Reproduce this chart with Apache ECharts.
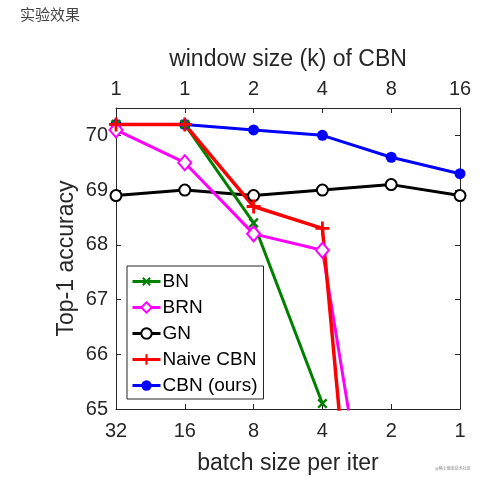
<!DOCTYPE html>
<html>
<head>
<meta charset="utf-8">
<script src="https://cdn.jsdelivr.net/npm/echarts@6/dist/echarts.min.js"></script>
<style>
html,body{margin:0;padding:0;background:#fff;}
#c{width:501px;height:494px;}
</style>
</head>
<body>
<div id="c"></div>
<script>
var batchLabels = ['32', '16', '8', '4', '2', '1'];
var windowLabels = ['1', '1', '2', '4', '8', '16'];
var bnData = [70.2, 70.2, 68.4, 65.1];
var brnData = [70.1, 69.5, 68.2, 67.9, 60.2];
var gnData = [68.9, 69.0, 68.9, 69.0, 69.1, 68.9];
var naiveCbnData = [70.2, 70.2, 68.7, 68.3, 54.6];
var cbnData = [70.2, 70.2, 70.1, 70.0, 69.6, 69.3];

var FONT = '"Liberation Sans", Arial, sans-serif';
var AX = '#262626';
var plusPath = 'path://M4,0H6V4H10V6H6V10H4V6H0V4H4Z';

var chart = echarts.init(document.getElementById('c'), null, {renderer: 'canvas'});
var axisCommon = {
  axisLine: {show: true, onZero: false, lineStyle: {color: AX, width: 1}},
  axisTick: {show: true, inside: true, length: 5, lineStyle: {color: AX}},
  splitLine: {show: false}
};
chart.setOption({
  animation: false,
  backgroundColor: '#fff',
  graphic: [
    {type: 'text', left: 20, top: 7, style: {text: '实验效果', fill: '#444', font: '15px "Noto Sans CJK SC", sans-serif'}},
    {type: 'text', left: 435, top: 466, style: {text: '@稀土掘金技术社区', fill: '#888', font: '4px "Noto Sans CJK SC", sans-serif'}}
  ],
  grid: {left: 116, right: 41, top: 108, bottom: 85, show: false},
  legend: {
    orient: 'vertical',
    left: 127, top: 266,
    padding: [6, 6, 4, 4],
    itemGap: 7,
    itemWidth: 28, itemHeight: 13,
    borderColor: AX, borderWidth: 1,
    backgroundColor: '#fff',
    lineStyle: {width: 3},
    textStyle: {fontFamily: FONT, fontSize: 19, color: '#000', padding: [0, 0, 0, -3]},
    data: ['BN', 'BRN', 'GN', 'Naive CBN', 'CBN (ours)']
  },
  xAxis: [
    Object.assign({
      type: 'category', position: 'bottom', boundaryGap: false, data: batchLabels,
      name: 'batch size per iter', nameLocation: 'middle', nameGap: 43, nameMoveOverlap: false,
      nameTextStyle: {fontFamily: FONT, fontSize: 23, color: AX},
      axisLabel: {interval: 0, margin: 12, fontFamily: FONT, fontSize: 20, color: AX}
    }, axisCommon),
    Object.assign({
      type: 'category', position: 'top', boundaryGap: false, data: batchLabels,
      name: 'window size (k) of CBN', nameLocation: 'middle', nameGap: 37, nameMoveOverlap: false,
      nameTextStyle: {fontFamily: FONT, fontSize: 23, color: AX},
      axisLabel: {interval: 0, margin: 9, fontFamily: FONT, fontSize: 20, color: AX,
        formatter: function (v, i) { return windowLabels[i]; }}
    }, axisCommon)
  ],
  yAxis: [
    Object.assign({
      type: 'value', position: 'left', min: 65, max: 70.5, interval: 1,
      name: 'Top-1 accuracy', nameLocation: 'middle', nameGap: 38, nameRotate: 90, nameMoveOverlap: false,
      nameTextStyle: {fontFamily: FONT, fontSize: 23, color: AX},
      axisLabel: {margin: 8, fontFamily: FONT, fontSize: 20, color: AX, showMaxLabel: false}
    }, axisCommon),
    Object.assign({
      type: 'value', position: 'right', min: 65, max: 70.5, interval: 1,
      axisLabel: {show: false}
    }, axisCommon)
  ],
  series: [
    {name: 'CBN (ours)', type: 'line', data: cbnData, clip: true,
      symbol: 'circle', symbolSize: 11,
      lineStyle: {color: '#0000ff', width: 3}, itemStyle: {color: '#0000ff'}},
    {name: 'GN', type: 'line', data: gnData, clip: true,
      symbol: 'emptyCircle', symbolSize: 11,
      lineStyle: {color: '#000', width: 3}, itemStyle: {color: '#000', borderColor: '#000', borderWidth: 2.5}},
    {name: 'BN', type: 'line', data: bnData, clip: true,
      symbol: plusPath, symbolSize: 12, symbolRotate: 45,
      lineStyle: {color: '#008000', width: 3}, itemStyle: {color: '#008000'}},
    {name: 'BRN', type: 'line', data: brnData, clip: true,
      symbol: 'emptyDiamond', symbolSize: [13, 15],
      lineStyle: {color: '#ff00ff', width: 3}, itemStyle: {color: '#ff00ff', borderColor: '#ff00ff', borderWidth: 2.5}},
    {name: 'Naive CBN', type: 'line', data: naiveCbnData, clip: true,
      symbol: plusPath, symbolSize: 14,
      lineStyle: {color: '#ff0000', width: 3.5}, itemStyle: {color: '#ff0000'}}
  ]
});
</script>
</body>
</html>
